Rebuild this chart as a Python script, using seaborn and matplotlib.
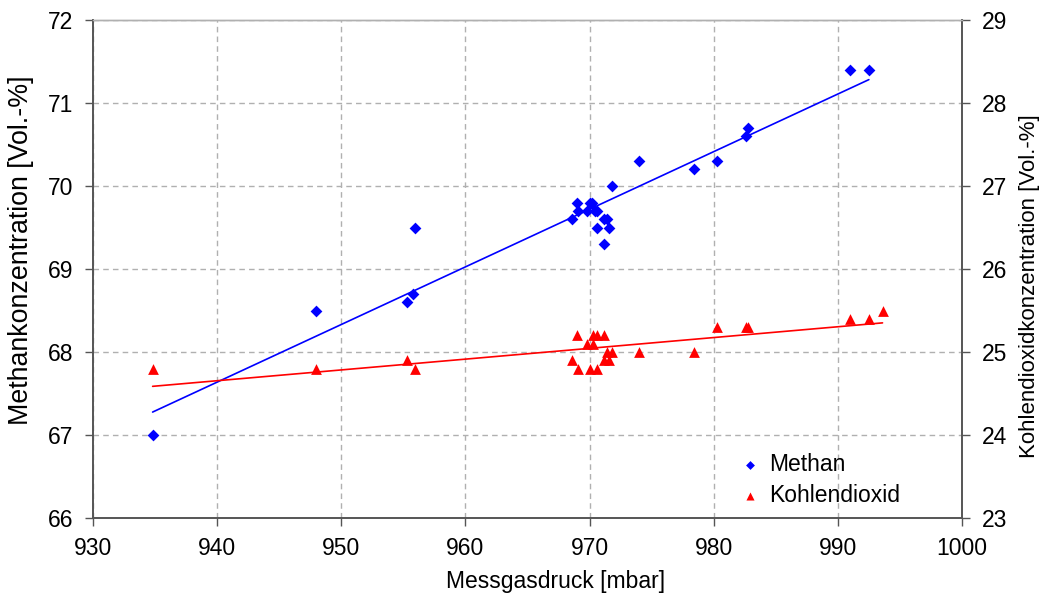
import numpy as np
import pandas as pd
import seaborn as sns
import matplotlib.pyplot as plt

methan_druck = [934.8, 948.0, 955.3, 955.8, 955.9, 968.6, 969.0, 969.1, 969.8,
                970.0, 970.2, 970.4, 970.6, 970.6, 971.2, 971.4, 971.2, 971.6,
                971.8, 974.0, 978.4, 980.3, 982.6, 982.8, 991.0, 992.5]
methan_konz = [67.0, 68.5, 68.6, 68.7, 69.5, 69.6, 69.8, 69.7, 69.7,
               69.8, 69.8, 69.7, 69.7, 69.5, 69.6, 69.6, 69.3, 69.5,
               70.0, 70.3, 70.2, 70.3, 70.6, 70.7, 71.4, 71.4]

co2_druck = [934.8, 948.0, 955.3, 955.9, 968.6, 969.0, 969.1, 969.8, 970.0,
             970.3, 970.3, 970.6, 970.6, 971.2, 971.2, 971.4, 971.6, 971.8,
             974.0, 978.4, 980.3, 982.6, 982.8, 991.0, 992.5, 993.6]
co2_konz = [24.8, 24.8, 24.9, 24.8, 24.9, 25.2, 24.8, 25.1, 24.8,
            25.1, 25.2, 25.2, 24.8, 25.2, 24.9, 25.0, 24.9, 25.0,
            25.0, 25.0, 25.3, 25.3, 25.3, 25.4, 25.4, 25.5]

x_ticks = [930, 940, 950, 960, 970, 980, 990, 1000]
y_ticks_links = [66, 67, 68, 69, 70, 71, 72]
y_ticks_rechts = [23, 24, 25, 26, 27, 28, 29]


def main():
    sns.set_style("white")
    plt.rcParams['font.family'] = ['Liberation Sans', 'DejaVu Sans']
    plt.rcParams['text.color'] = 'black'
    plt.rcParams['axes.labelcolor'] = 'black'
    plt.rcParams['xtick.color'] = 'black'
    plt.rcParams['ytick.color'] = 'black'

    df_m = pd.DataFrame({'druck': methan_druck, 'konz': methan_konz})
    df_c = pd.DataFrame({'druck': co2_druck, 'konz': co2_konz})

    fig = plt.figure(figsize=(10.43, 5.99), dpi=100)
    ax = fig.add_axes([0.0892, 0.1352, 0.8331, 0.8314])
    ax2 = ax.twinx()

    sns.regplot(data=df_m, x='druck', y='konz', ax=ax, ci=None, truncate=True,
                marker='D', color='#0000ff', label='Methan',
                scatter_kws={'s': 36, 'linewidths': 0, 'alpha': 1},
                line_kws={'lw': 1.2})
    sns.regplot(data=df_c, x='druck', y='konz', ax=ax2, ci=None, truncate=True,
                marker='^', color='#ff0000', label='Kohlendioxid',
                scatter_kws={'s': 60, 'linewidths': 0, 'alpha': 1},
                line_kws={'lw': 1.2})

    ax.set_xlim(930, 1000)
    ax.set_ylim(66, 72)
    ax2.set_ylim(23, 29)
    ax.set_xticks(x_ticks)
    ax.set_yticks(y_ticks_links)
    ax2.set_yticks(y_ticks_rechts)

    ax.grid(True, color='#b0b0b0', linestyle=(0, (4, 3)), linewidth=1)
    ax.set_axisbelow(True)

    for a in (ax, ax2):
        a.tick_params(direction='out', length=6, width=1, color='#555555',
                      labelsize=16.5, pad=8)
        for side in ('left', 'right', 'bottom'):
            a.spines[side].set_color('#555555')
            a.spines[side].set_linewidth(1.2)
        a.spines['top'].set_color('#b0b0b0')
        a.spines['top'].set_linewidth(1)
    ax.tick_params(axis='y', left=True)
    ax.tick_params(axis='x', bottom=True)
    ax2.tick_params(axis='y', right=True)

    ax.set_xlabel('Messgasdruck [mbar]', fontsize=16.5)
    ax.set_ylabel('Methankonzentration [Vol.-%]', fontsize=19.3)
    ax2.set_ylabel('Kohlendioxidkonzentration [Vol.-%]', fontsize=16, rotation=90)
    ax.xaxis.set_label_coords(0.532, -0.105)
    ax.yaxis.set_label_coords(-0.068, 0.538)
    ax2.yaxis.set_label_coords(1.066, 0.466)

    h1 = ax.collections[0]
    h2 = ax2.collections[0]
    ax2.legend([h1, h2], ['Methan', 'Kohlendioxid'], loc='lower right',
               bbox_to_anchor=(0.952, -0.02), frameon=False, fontsize=16.5,
               handlelength=1.0, handletextpad=0.3, labelspacing=0.35,
               markerscale=0.75)

    fig.savefig('out.png', dpi=100)


if __name__ == '__main__':
    main()
